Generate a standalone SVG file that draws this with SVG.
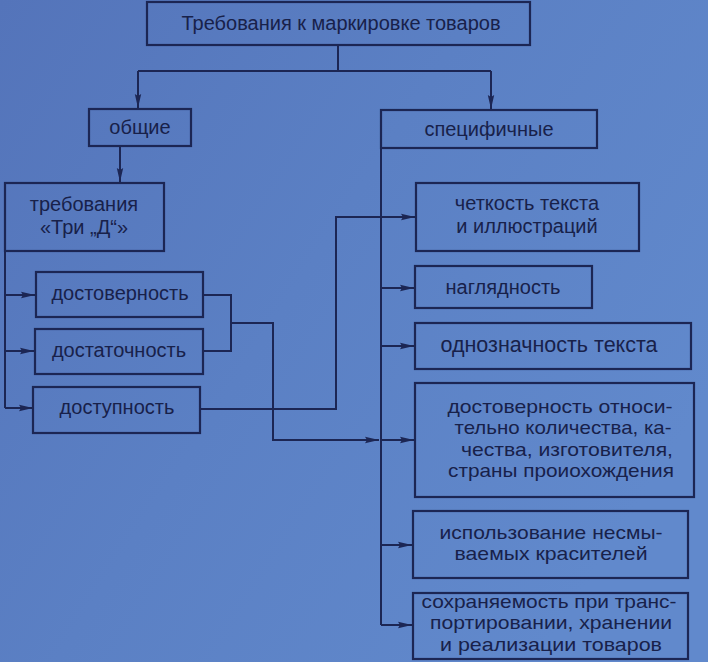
<svg xmlns="http://www.w3.org/2000/svg" width="708" height="662" viewBox="0 0 708 662">
<defs>
<linearGradient id="bg" x1="0" y1="0" x2="1" y2="0.6">
<stop offset="0" stop-color="#5474ba"/>
<stop offset="0.5" stop-color="#5b80c4"/>
<stop offset="1" stop-color="#6189cc"/>
</linearGradient>
<marker id="ah" viewBox="0 0 14 8" refX="14" refY="4" markerWidth="14" markerHeight="8" markerUnits="userSpaceOnUse" orient="auto">
<path d="M0,0.8 L14,4 L0,7.2 L2,4 Z" fill="#1c2654"/>
</marker>
<style>
.box{fill:none;stroke:#1c2654;stroke-width:2.2}
.ln{fill:none;stroke:#1c2654;stroke-width:2}
.t{font-family:"Liberation Sans","Arial",sans-serif;font-size:20px;fill:#18214a;text-anchor:middle}
.l{font-size:19px}
</style>
</defs>
<rect width="708" height="662" fill="url(#bg)"/>
<g id="connectors">
<path class="ln" d="M338,45 V71 M138,71 H491"/>
<path class="ln" d="M138,71 V108" marker-end="url(#ah)"/>
<path class="ln" d="M491,71 V109" marker-end="url(#ah)"/>
<path class="ln" d="M120,146 V182" marker-end="url(#ah)"/>
<path class="ln" d="M5,251 V408"/>
<path class="ln" d="M5,295 H35" marker-end="url(#ah)"/>
<path class="ln" d="M5,351 H34" marker-end="url(#ah)"/>
<path class="ln" d="M5,408 H33" marker-end="url(#ah)"/>
<path class="ln" d="M203,295 H231 V351 H203"/>
<path class="ln" d="M231,323 H273 V440 H379" marker-end="url(#ah)"/>
<path class="ln" d="M200,409 H336 V217 H415" marker-end="url(#ah)"/>
<path class="ln" d="M381,148 V625"/>
<path class="ln" d="M381,288 H414" marker-end="url(#ah)"/>
<path class="ln" d="M381,346 H414" marker-end="url(#ah)"/>
<path class="ln" d="M381,440 H414" marker-end="url(#ah)"/>
<path class="ln" d="M381,545 H412" marker-end="url(#ah)"/>
<path class="ln" d="M381,625 H412" marker-end="url(#ah)"/>
</g>
<g id="root"><rect class="box" x="147" y="2" width="383" height="43"/><text class="t" x="341" y="30">Требования к маркировке товаров</text></g>
<g id="general"><rect class="box" x="89" y="109" width="102" height="37"/><text class="t" x="140" y="134">общие</text></g>
<g id="specific"><rect class="box" x="381" y="110" width="216" height="38"/><text class="t" x="489" y="136">специфичные</text></g>
<g id="three-d"><rect class="box" x="5" y="183" width="159" height="68"/><text class="t" x="84" y="211">требования</text><text class="t" x="84" y="234">«Три „Д“»</text></g>
<g id="reliability"><rect class="box" x="36" y="272" width="167" height="45"/><text class="t" x="120" y="300">достоверность</text></g>
<g id="sufficiency"><rect class="box" x="35" y="329" width="168" height="45"/><text class="t" x="119" y="357">достаточность</text></g>
<g id="accessibility"><rect class="box" x="33" y="387" width="167" height="46"/><text class="t" x="117" y="414">доступность</text></g>
<g id="clarity"><rect class="box" x="416" y="183" width="223" height="68"/><text class="t" x="527" y="210">четкость текста</text><text class="t" x="527" y="233">и иллюстраций</text></g>
<g id="visibility"><rect class="box" x="415" y="266" width="177" height="42"/><text class="t" x="503" y="294">наглядность</text></g>
<g id="unambiguity"><rect class="box" x="415" y="323" width="276" height="46"/><text class="t" x="549" y="352" style="font-size:21.5px">однозначность текста</text></g>
<g id="accuracy"><rect class="box" x="415" y="383" width="279" height="114"/>
<text class="t l" x="560" y="413" textLength="225" lengthAdjust="spacingAndGlyphs">достоверность относи-</text>
<text class="t l" x="563" y="434.4" textLength="217" lengthAdjust="spacingAndGlyphs">тельно количества, ка-</text>
<text class="t l" x="567" y="455.8" textLength="212" lengthAdjust="spacingAndGlyphs">чества, изготовителя,</text>
<text class="t l" x="561" y="477.2" textLength="226" lengthAdjust="spacingAndGlyphs">страны проиохождения</text></g>
<g id="dyes"><rect class="box" x="413" y="511" width="275" height="67"/>
<text class="t l" x="551" y="539" textLength="223" lengthAdjust="spacingAndGlyphs">использование несмы-</text>
<text class="t l" x="551" y="560.4" textLength="193" lengthAdjust="spacingAndGlyphs">ваемых красителей</text></g>
<g id="preservation"><rect class="box" x="413" y="593" width="275" height="66"/>
<text class="t l" x="549" y="608" textLength="255" lengthAdjust="spacingAndGlyphs">сохраняемость при транс-</text>
<text class="t l" x="551" y="629.4" textLength="242" lengthAdjust="spacingAndGlyphs">портировании, хранении</text>
<text class="t l" x="551" y="650.8" textLength="222" lengthAdjust="spacingAndGlyphs">и реализации товаров</text></g>
</svg>
